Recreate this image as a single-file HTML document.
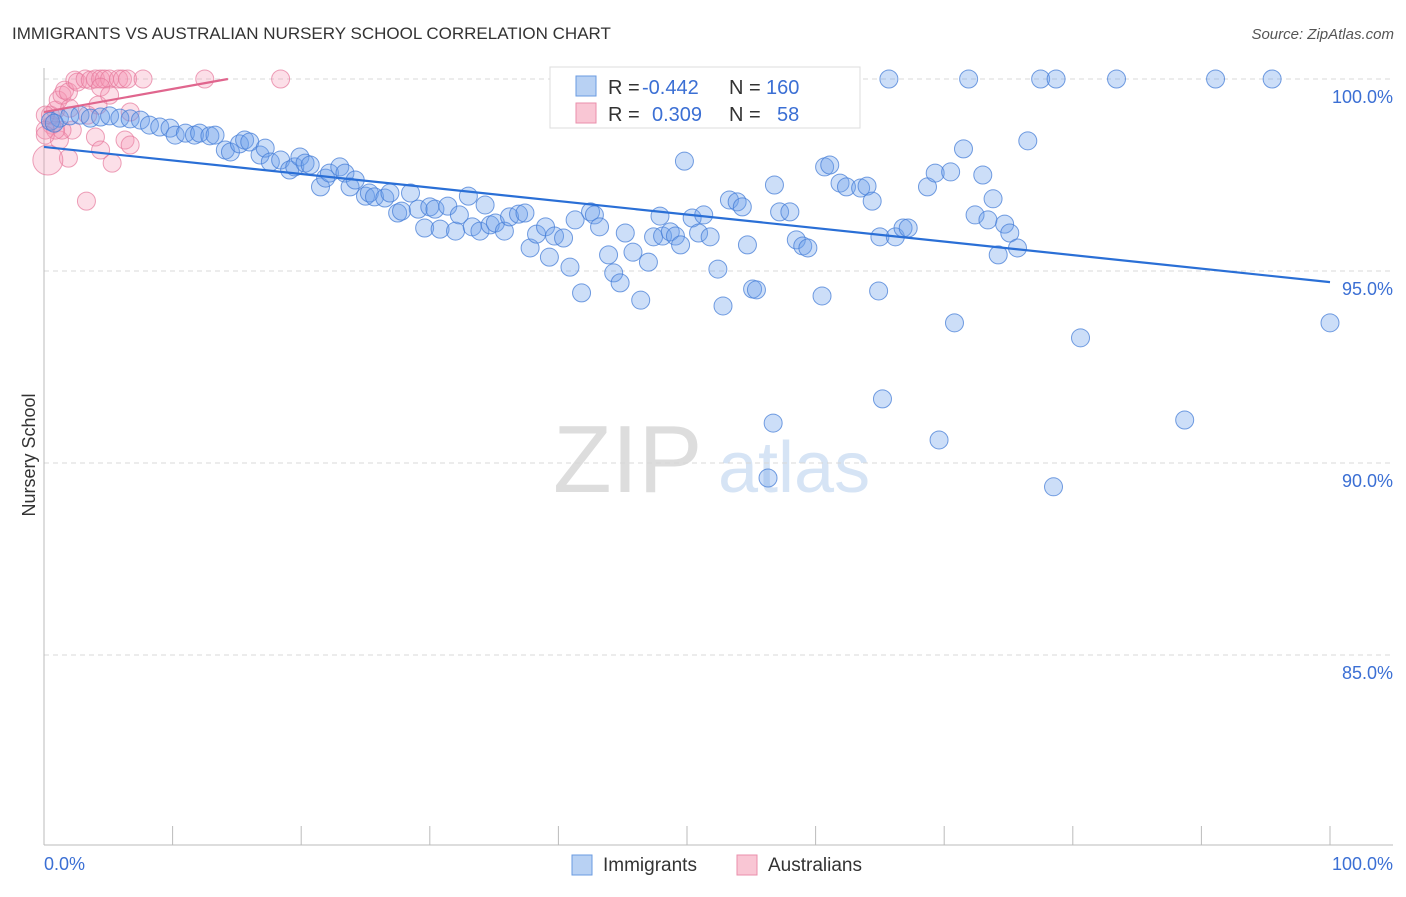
<!DOCTYPE html>
<html><head><meta charset="utf-8"><style>
body{margin:0;background:#fff;font-family:"Liberation Sans",sans-serif;}
svg text{font-family:"Liberation Sans",sans-serif;}
</style></head><body>
<svg width="1406" height="892" viewBox="0 0 1406 892">
<text x="12" y="39" font-size="17" fill="#333">IMMIGRANTS VS AUSTRALIAN NURSERY SCHOOL CORRELATION CHART</text>
<text x="1394" y="39" font-size="15" fill="#555" font-style="italic" text-anchor="end">Source: ZipAtlas.com</text>
<g>
<text x="553" y="492" font-size="96" fill="#ddd" font-family="Liberation Serif,serif">ZIP</text>
<text x="718" y="492" font-size="72" fill="#d6e4f5">atlas</text>
</g>
<g id="grid"></g>
<g id="axes"></g>
<g id="marks"></g>
<text x="35" y="455" font-size="18" fill="#333" transform="rotate(-90 35 455)" text-anchor="middle">Nursery School</text>
<text x="44" y="870" font-size="18" fill="#3b6fd4">0.0%</text>
<text x="1393" y="870" font-size="18" fill="#3b6fd4" text-anchor="end">100.0%</text>
<g>
<rect x="550" y="67" width="310" height="61" fill="#fff" stroke="#ddd"/>
<rect x="576" y="76" width="20" height="20" fill="#b8d1f3" stroke="#6a9be0"/>
<rect x="576" y="103" width="20" height="20" fill="#f9c6d4" stroke="#ea8fab"/>
<text x="608" y="94" font-size="20" fill="#333">R =</text><text x="642" y="94" font-size="20" fill="#3b6fd4">-0.442</text>
<text x="729" y="94" font-size="20" fill="#333">N =</text><text x="766" y="94" font-size="20" fill="#3b6fd4">160</text>
<text x="608" y="121" font-size="20" fill="#333">R =</text><text x="652" y="121" font-size="20" fill="#3b6fd4">0.309</text>
<text x="729" y="121" font-size="20" fill="#333">N =</text><text x="777" y="121" font-size="20" fill="#3b6fd4">58</text>
</g>
<g>
<rect x="572" y="855" width="20" height="20" fill="#b8d1f3" stroke="#6a9be0"/>
<text x="603" y="871" font-size="19" fill="#333">Immigrants</text>
<rect x="737" y="855" width="20" height="20" fill="#f9c6d4" stroke="#ea8fab"/>
<text x="768" y="871" font-size="19" fill="#333">Australians</text>
</g>
</svg>
<script>
const yTicks=[100,95,90,85];
const yTickLabels=["100.0%","95.0%","90.0%","85.0%"];
const xTicks=[0,10,20,30,40,50,60,70,80,90,100];
const blueX=[1.2,2.0,2.8,3.6,4.4,5.1,5.9,6.7,7.5,8.2,9.0,9.8,10.2,11.0,11.7,12.1,12.9,13.3,14.1,14.5,15.2,15.6,16.0,16.8,17.2,17.6,18.4,19.1,19.5,19.9,20.3,20.7,21.5,21.9,22.2,23.0,23.4,23.8,24.2,25.0,25.3,25.7,26.5,26.9,27.5,27.8,28.5,29.1,29.6,30.0,30.4,30.8,31.4,32.0,32.3,33.0,33.3,33.9,34.3,34.7,35.1,35.8,36.2,36.9,37.4,37.8,38.3,39.0,39.3,39.7,40.4,40.9,41.3,41.8,42.5,42.8,43.2,43.9,44.3,44.8,45.2,45.8,46.4,47.0,47.4,47.9,48.1,48.7,49.1,49.5,49.8,50.4,50.9,51.3,51.8,52.4,52.8,53.3,53.9,54.3,54.7,55.1,55.4,56.8,57.2,58.0,58.5,59.0,59.4,60.5,60.7,61.1,61.9,62.4,63.5,64.0,64.4,64.9,65.0,65.7,66.2,66.8,67.2,68.7,69.3,70.5,70.8,71.5,71.9,72.4,73.0,73.4,73.8,74.2,74.7,75.1,75.7,76.5,77.5,78.7,80.6,83.4,88.7,91.1,95.5,100,56.7,56.3,65.2,69.6,78.5,0.5,0.8];
const blueY=[98.98,99.04,99.06,98.98,99.01,99.04,98.98,98.96,98.93,98.80,98.75,98.72,98.54,98.59,98.54,98.59,98.52,98.54,98.15,98.10,98.31,98.41,98.36,98.02,98.20,97.84,97.89,97.63,97.71,97.97,97.81,97.76,97.19,97.42,97.55,97.71,97.55,97.19,97.37,96.95,97.03,96.93,96.90,97.03,96.51,96.56,97.03,96.61,96.12,96.67,96.61,96.09,96.69,96.04,96.46,96.95,96.15,96.04,96.72,96.20,96.25,96.04,96.41,96.48,96.51,95.60,95.96,96.15,95.36,95.91,95.86,95.10,96.33,94.43,96.54,96.46,96.15,95.42,94.95,94.69,95.99,95.49,94.24,95.23,95.89,96.43,95.91,96.02,95.91,95.68,97.86,96.38,95.99,96.46,95.89,95.05,94.09,96.85,96.80,96.67,95.68,94.53,94.51,97.24,96.54,96.54,95.81,95.65,95.60,94.35,97.71,97.76,97.29,97.19,97.16,97.21,96.82,94.48,95.89,100,95.89,96.12,96.12,97.19,97.55,97.58,93.65,98.18,100,96.46,97.50,96.33,96.88,95.42,96.22,95.99,95.60,98.39,100,100,93.26,100,91.12,100,100,93.65,91.04,89.61,91.67,90.60,89.38,98.90,98.85];
const pinkX=[0.5,0.6,0.9,1.1,1.4,1.6,1.9,2.4,2.6,3.2,3.6,4.0,4.4,4.7,5.1,5.8,6.1,6.5,7.7,12.5,18.4,2.0,2.2,1.9,3.3,4.0,4.4,4.4,4.2,5.1,5.3,6.3,6.7,6.7,3.4,1.2,1.4,0.9,0.1,0.1,0.1];
const pinkY=[99.06,98.80,99.19,99.45,99.58,99.71,99.66,99.97,99.92,100,99.97,100,100,100,100,100,100,100,100,100,100,99.24,98.67,97.94,96.82,98.49,98.15,99.79,99.32,99.58,97.81,98.41,98.28,99.14,99.06,98.41,98.67,98.67,99.06,98.67,98.54];
const bigPinkX=[0.3], bigPinkY=[97.89];
const blueTrend=[98.23,94.71];
const pinkTrend=[99.14,100.0,14.3];

const X=v=>44+v*12.86, Y=v=>79+(100-v)*38.4;
const NS="http://www.w3.org/2000/svg";
function mk(t,a,p){const e=document.createElementNS(NS,t);for(const k in a)e.setAttribute(k,a[k]);p.appendChild(e);return e;}
const grid=document.getElementById('grid'),axes=document.getElementById('axes'),marks=document.getElementById('marks');
yTicks.forEach((t,i)=>{
 const l=mk('line',{x1:44,x2:1393,y1:Y(t),y2:Y(t),stroke:'#d8d8d8','stroke-dasharray':'5,4'},grid);
 
 
 const tx=mk('text',{x:1393,y:Y(t)+24,'font-size':18,fill:'#3b6fd4','text-anchor':'end'},grid);
 tx.textContent=yTickLabels[i];
 
 
});
const ya=mk('line',{x1:44,x2:44,y1:68,y2:845,stroke:'#bbb'},axes);


const xa=mk('line',{x1:44,x2:1393,y1:845,y2:845,stroke:'#bbb'},axes);


xTicks.forEach(t=>{
 const l=mk('line',{x1:X(t),x2:X(t),y1:826,y2:845,stroke:'#bbb'},axes);
 
 
});
function dot(x,y,r,fill,stroke,name){
 const c=mk('circle',{cx:X(x),cy:Y(y),r:r,fill:fill,stroke:stroke,'stroke-width':1},marks);
 
 
}
pinkX.forEach((x,i)=>dot(x,pinkY[i],9,'rgba(244,150,180,0.3)','rgba(230,120,155,0.7)','australians-point'));
bigPinkX.forEach((x,i)=>dot(x,bigPinkY[i],15,'rgba(244,150,180,0.3)','rgba(230,120,155,0.7)','australians-point'));
blueX.forEach((x,i)=>dot(x,blueY[i],9,'rgba(110,160,235,0.35)','rgba(70,125,215,0.75)','immigrants-point'));
const bt=mk('line',{x1:X(0),y1:Y(blueTrend[0]),x2:X(100),y2:Y(blueTrend[1]),stroke:'#2a6fd6','stroke-width':2.2},marks);


const pt=mk('line',{x1:X(0),y1:Y(pinkTrend[0]),x2:X(pinkTrend[2]),y2:Y(pinkTrend[1]),stroke:'#e0668e','stroke-width':2.2},marks);


</script>
</body></html>
